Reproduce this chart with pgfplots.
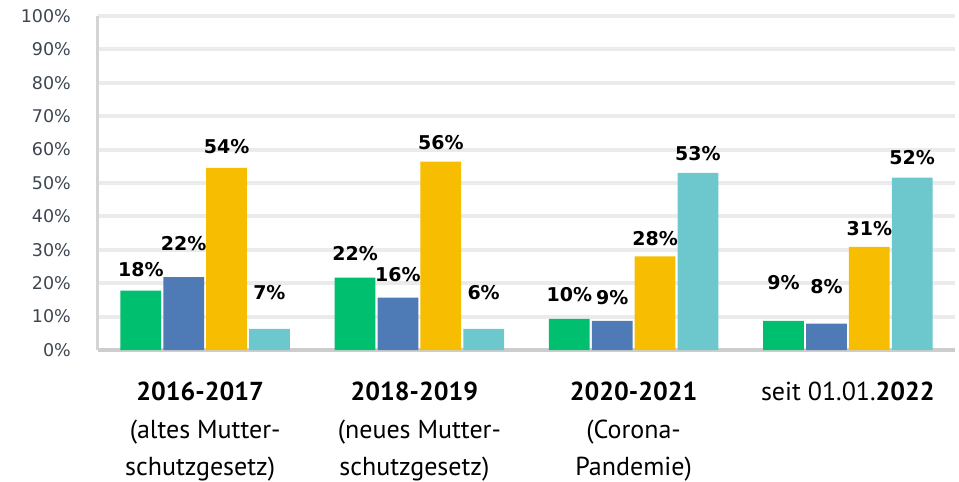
\documentclass[border=0pt]{standalone}
\usepackage{fontspec}
\setmainfont{DejaVu Sans}
\newfontfamily\catfont{PT Sans}
\usepackage{pgfplots}
\usepackage{pgfplotstable}
\pgfplotsset{compat=1.18}
\pgfkeys{/pgf/number format/assume math mode=true}

\definecolor{cgreen}{HTML}{00BF6F}
\definecolor{cblue}{HTML}{4E7AB5}
\definecolor{cyellow}{HTML}{F7BD00}
\definecolor{cteal}{HTML}{6CC8CC}
\definecolor{gridc}{HTML}{EBEBEB}
\definecolor{axisc}{HTML}{CDCDCD}
\definecolor{tickc}{HTML}{3D4650}

% x = period, y = bar height, ly = label position, lab = printed value
\pgfplotstableread{
x y ly lab
0 17.8 24.0 18
1 21.7 29.0 22
2 9.3 16.5 10
3 8.7 20.1 9
}\green
\pgfplotstableread{
x y ly lab
0 21.8 32.0 22
1 15.7 22.5 16
2 8.7 15.6 9
3 7.9 18.9 8
}\blue
\pgfplotstableread{
x y ly lab
0 54.5 60.8 54
1 56.4 62.0 56
2 28.0 33.5 28
3 30.9 36.5 31
}\yellow
\pgfplotstableread{
x y ly lab
0 6.3 17.1 7
1 6.3 17.1 6
2 53.0 58.7 53
3 51.6 57.5 52
}\teal

\pgfplotsset{
  barlab/.style={only marks, mark=none, draw=none,
    point meta=explicit,
    nodes near coords={\pgfmathprintnumber{\pgfplotspointmeta}\%},
    every node near coord/.append style={anchor=center, inner sep=1pt,
      font=\bfseries\fontsize{19}{19}\selectfont, text=black}},
}
\newcommand{\tr}{\hspace*{10pt}}

\begin{document}
\begin{tikzpicture}
\useasboundingbox (-98pt,-132pt) rectangle (861pt,350pt);
\begin{axis}[
    scale only axis,
    width=857pt, height=334pt,
    xmin=-0.5, xmax=3.5,
    ymin=0, ymax=100,
    clip=false,
    axis lines=left,
    axis line style={-},
    x axis line style={draw=axisc, line width=4pt},
    y axis line style={draw=axisc!85, line width=3pt},
    major tick length=0pt,
    ymajorgrids,
    grid style={gridc, line width=4pt},
    ytick={0,10,...,100},
    yticklabel={\pgfmathprintnumber{\tick}\%},
    yticklabel style={inner sep=0pt, xshift=-27pt, text=tickc,
      font=\fontsize{17.5}{17.5}\selectfont},
    xtick={0,1,2,3},
    xticklabels={
      {\textbf{2016-2017}\tr\\(altes Mutter-\tr\\schutzgesetz)\tr},
      {\textbf{2018-2019}\tr\\(neues Mutter-\tr\\schutzgesetz)\tr},
      {\textbf{2020-2021}\\(Corona-\\Pandemie)},
      {seit 01.01.\textbf{2022}}},
    xticklabel style={align=center, inner sep=0pt, yshift=-32pt,
      font=\catfont\fontsize{26}{37.5}\selectfont, text=black},
]
\addplot[ybar, bar width=0.19, bar shift=-0.3, fill=cgreen, draw=none] table[x=x, y=y] {\green};
\addplot[ybar, bar width=0.19, bar shift=-0.1, fill=cblue, draw=none] table[x=x, y=y] {\blue};
\addplot[ybar, bar width=0.19, bar shift=0.1, fill=cyellow, draw=none] table[x=x, y=y] {\yellow};
\addplot[ybar, bar width=0.19, bar shift=0.3, fill=cteal, draw=none] table[x=x, y=y] {\teal};

\addplot[barlab] table[x expr=\thisrow{x}-0.3, y=ly, meta=lab] {\green};
\addplot[barlab] table[x expr=\thisrow{x}-0.1, y=ly, meta=lab] {\blue};
\addplot[barlab] table[x expr=\thisrow{x}+0.1, y=ly, meta=lab] {\yellow};
\addplot[barlab] table[x expr=\thisrow{x}+0.3, y=ly, meta=lab] {\teal};
\end{axis}
\end{tikzpicture}
\end{document}
